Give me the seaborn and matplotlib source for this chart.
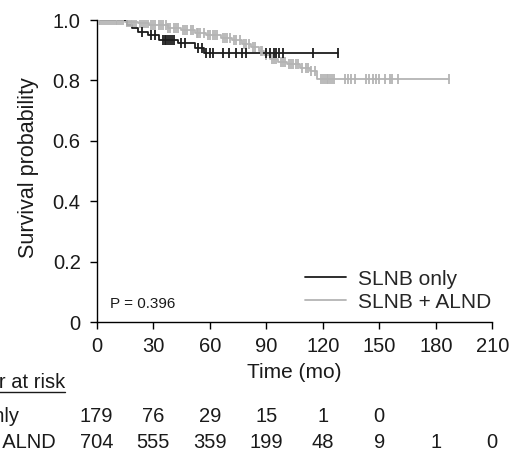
import numpy as np
import pandas as pd
import matplotlib
matplotlib.use("Agg")
import matplotlib.pyplot as plt
import seaborn as sns
from matplotlib import transforms
from matplotlib.lines import Line2D

# ---------------- data ----------------
groups = ["SLNB only", "SLNB + ALND"]

slnb_times = [0, 16, 19, 22, 27, 33, 43, 52, 57, 128]
slnb_surv = [1.0, 0.985, 0.974, 0.961, 0.95, 0.934, 0.923, 0.907, 0.891, 0.891]
slnb_censor = [24, 29, 31, 35, 36, 37, 38, 39, 40, 41, 45, 47, 54, 56, 58, 60, 62,
               67, 70, 74, 77, 79, 90, 92, 94, 95, 97, 99, 115, 128]

alnd_times = [0, 15, 22, 28, 38, 45, 52, 58, 66, 72, 77, 82, 86, 89, 92, 96, 101,
              108, 113, 117, 187]
alnd_surv = [1.0, 0.995, 0.99, 0.982, 0.975, 0.967, 0.958, 0.95, 0.94, 0.933, 0.92,
             0.91, 0.897, 0.885, 0.872, 0.862, 0.855, 0.842, 0.832, 0.806, 0.806]
alnd_censor = [1, 2, 3, 4, 5, 6, 7, 8, 9, 10, 11, 12, 13, 14, 16, 17, 18, 19, 20, 21,
               23, 24, 25, 26, 27, 29, 30, 31, 33, 34, 35, 37, 38, 39, 41, 42, 43, 46,
               47, 48, 50, 51, 53, 54, 55, 57, 59, 60, 62, 63, 64, 67, 68, 69, 71, 73,
               74, 76, 78, 79, 81, 83, 84, 87, 88, 90, 93, 94, 95, 98, 99, 100, 102,
               103, 104, 106, 107, 109, 111, 112, 114, 116, 119, 120, 121, 122, 123,
               124, 125, 126, 132, 133.5, 135, 137, 143, 144.5, 146.5, 148, 150, 153,
               155.5, 157, 160, 187]

risk_times = [0, 30, 60, 90, 120, 150, 180, 210]
risk_slnb = ["179", "76", "29", "15", "1", "0"]
risk_alnd = ["704", "555", "359", "199", "48", "9", "1", "0"]

x_ticks = [0, 30, 60, 90, 120, 150, 180, 210]
y_ticks = [0, 0.2, 0.4, 0.6, 0.8, 1.0]
y_ticklabels = ["0", "0.2", "0.4", "0.6", "0.8", "1.0"]
p_text = "P = 0.396"

colors = {"SLNB only": "#1c1c1c", "SLNB + ALND": "#b4b4b4"}


def surv_at(times, surv, t):
    idx = np.searchsorted(times, t, side="right") - 1
    return surv[idx]


# ---------------- figure ----------------
sns.set_style("ticks")
plt.rcParams["font.family"] = ["Liberation Sans", "DejaVu Sans"]

W, H = 517, 459
fig = plt.figure(figsize=(W / 100, H / 100), dpi=100)
ax = fig.add_axes([96.7 / W, 1 - 322 / H, (492.3 - 96.7) / W, (322 - 20) / H])

curve_df = pd.concat([
    pd.DataFrame({"time": slnb_times, "surv": slnb_surv, "group": groups[0]}),
    pd.DataFrame({"time": alnd_times, "surv": alnd_surv, "group": groups[1]}),
])

# draw gray first, black on top
for g, times, surv, cens in [(groups[1], alnd_times, alnd_surv, alnd_censor),
                             (groups[0], slnb_times, slnb_surv, slnb_censor)]:
    sub = curve_df[curve_df["group"] == g]
    sns.lineplot(data=sub, x="time", y="surv", ax=ax, color=colors[g],
                 drawstyle="steps-post", lw=1.3, label=g, sort=False,
                 estimator=None)
    cdf = pd.DataFrame({"time": cens,
                        "surv": [surv_at(times, surv, t) for t in cens]})
    sns.scatterplot(data=cdf, x="time", y="surv", ax=ax, marker="|", s=55,
                    color=colors[g], linewidth=1.3, legend=False, zorder=3)

ax.set_xlim(0, 210)
ax.set_ylim(0, 1.0)
ax.set_xticks(x_ticks)
ax.set_yticks(y_ticks)
ax.set_yticklabels(y_ticklabels)
ax.tick_params(axis="both", direction="out", length=5, width=1, labelsize=14.5,
               color="black", labelcolor="#1a1a1a")
ax.tick_params(axis="x", pad=5.5)
ax.tick_params(axis="y", pad=6.5)
for s in ["top", "right"]:
    ax.spines[s].set_visible(False)
for s in ["left", "bottom"]:
    ax.spines[s].set_color("black")
    ax.spines[s].set_linewidth(1)
    ax.spines[s].set_clip_on(False)

ax.set_xlabel("Time (mo)", fontsize=15, color="#1a1a1a")
ax.set_ylabel("Survival probability", fontsize=15.5, color="#1a1a1a")
ax.xaxis.set_label_coords(0.5, -0.135)
ax.yaxis.set_label_coords(-0.145, 0.51)

# legend in order SLNB only, SLNB + ALND
handles = [Line2D([0], [0], color=colors[g], lw=1.3) for g in groups]
ax.legend(handles, groups, loc="center left", bbox_to_anchor=(0.526, 0.104),
          frameon=False, fontsize=15, handlelength=2.0, handletextpad=0.55,
          labelspacing=0.2, borderpad=0, borderaxespad=0)

ax.text((110 - 96.7) / 396, (322 - 304) / 302, p_text, transform=ax.transAxes,
        fontsize=11, va="center", ha="left", color="#1a1a1a")

# ---------------- number at risk table ----------------
# (the reference image is cropped on its left edge, so these labels run off it)
tr = transforms.blended_transform_factory(ax.transData, fig.transFigure)
hdr = fig.text(-66 / W, 1 - 382 / H, "Number at risk", fontsize=14.5,
               va="center", ha="left", color="#1a1a1a")
fig.text(-76 / W, 1 - 417 / H, "SLNB only", fontsize=14.5, va="center",
         ha="left", color="#1a1a1a")
fig.text(-72 / W, 1 - 443 / H, "SLNB + ALND", fontsize=14.5, va="center",
         ha="left", color="#1a1a1a")
for t, v in zip(risk_times, risk_slnb):
    ax.text(t, 1 - 417 / H, v, transform=tr, fontsize=14.5, ha="center",
            va="center", color="#1a1a1a", clip_on=False)
for t, v in zip(risk_times, risk_alnd):
    ax.text(t, 1 - 443 / H, v, transform=tr, fontsize=14.5, ha="center",
            va="center", color="#1a1a1a", clip_on=False)

fig.canvas.draw()
bb = hdr.get_window_extent()
uy = (bb.y0 - 0.5) / H
fig.add_artist(Line2D([bb.x0 / W, bb.x1 / W], [uy, uy], color="#1a1a1a",
                      lw=1.0, transform=fig.transFigure))

fig.savefig("out.png", dpi=100)
